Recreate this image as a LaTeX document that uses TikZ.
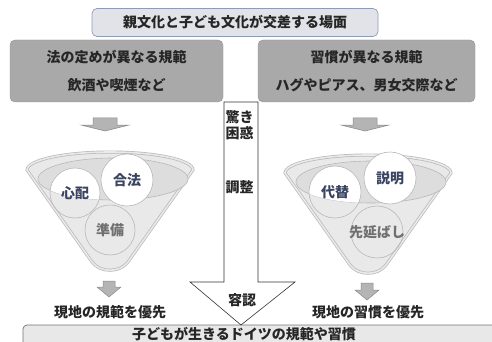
\documentclass[tikz,border=0pt]{standalone}
\usepackage{fontspec}
\setmainfont{Noto Sans CJK JP}
\definecolor{funnelfill}{HTML}{E9E9E9}
\definecolor{innerfill}{HTML}{DDDDDD}
\definecolor{funnelline}{HTML}{B8B8B8}
\definecolor{boxgray}{HTML}{A9A9A9}
\definecolor{topfill}{HTML}{E2E3E8}
\definecolor{topline}{HTML}{8E9BB5}
\definecolor{slate}{HTML}{3A4460}
\definecolor{softtext}{HTML}{707070}
\definecolor{arrowgray}{HTML}{B4B4B4}
\definecolor{arrowline}{HTML}{8A8A8A}
\definecolor{botfill}{HTML}{E8E8E8}
\newcommand{\drawfunnel}{%
  \draw[funnelline, line width=0.7pt, double=funnelfill, double distance=1.6pt, fill=funnelfill]
    (27,170) .. controls (27,160) and (64,152) .. (110,152)
    .. controls (156,152) and (193,160) .. (193,170)
    -- (128,262) .. controls (120,273) and (100,273) .. (92,262) -- cycle;
  \draw[funnelline, line width=0.6pt, fill=innerfill] (113,179) ellipse [x radius=75pt, y radius=21pt];
}
\newcommand{\smallarrow}[5]{% cx, ytop, yhead, ytip, shaft half
  \draw[arrowline, line width=0.5pt, fill=arrowgray]
    (#1-#5,#2) -- (#1+#5,#2) -- (#1+#5,#3) -- (#1+2*#5,#3) -- (#1,#4) -- (#1-2*#5,#3) -- (#1-#5,#3) -- cycle;
}
\begin{document}
\begin{tikzpicture}[x=1pt,y=-1pt,
  txt/.style={font=\fontsize{14}{16}\selectfont\bfseries, text=black!85, inner sep=0pt},
  graybox/.style={txt, fill=boxgray, draw=boxgray!85!black, rounded corners=5pt, align=center,
     font=\fontsize{14}{28}\selectfont\bfseries},
  topbox/.style={txt, fill=topfill, draw=topline, line width=0.7pt, rounded corners=5pt},
  circwhite/.style={circle, draw=funnelline, line width=0.6pt, fill=white, inner sep=0pt},
  circopen/.style={circle, draw=funnelline, line width=0.6pt, inner sep=0pt},
  bigarrow/.style={draw=black!80, line width=0.6pt, fill=white},
]
\useasboundingbox (0,0) rectangle (492,342);

% top box
\node[topbox, minimum width=286pt, minimum height=28pt] (top) at (235,22.5) {親文化と子ども文化が交差する場面};

% gray boxes
\node[graybox, minimum width=213pt, minimum height=62pt] (lawbox) at (116.5,71) {法の定めが異なる規範\\飲酒や喫煙など};
\node[graybox, minimum width=217pt, minimum height=62pt] (custombox) at (366.5,71) {習慣が異なる規範\\ハグやピアス、男女交際など};

% bottom box
\draw[draw=black!55, line width=0.7pt, fill=botfill, rounded corners=4pt] (23,325) rectangle (530,370);
\node[txt] (living) at (244,334) {子どもが生きるドイツの規範や習慣};

% central big arrow
\draw[bigarrow] (224,102) -- (258,102) -- (258,282) -- (295,282) -- (241,325) -- (190,282) -- (224,282) -- cycle;
\node[txt] (odoroki) at (239.5,117) {驚き};
\node[txt] (konwaku) at (239.5,133) {困惑};
\node[txt] (chosei) at (239.5,187) {調整};
\node[txt] (yonin) at (242,300) {容認};

% left funnel
\begin{scope}
  \drawfunnel
  \begin{scope}
    \clip (113,179) ellipse [x radius=75pt, y radius=21pt];
    \fill[white] (75,193) circle [radius=25pt];
  \end{scope}
  \node[circopen, minimum size=50pt] (shinpai) at (75,193) {};
  \node[circwhite, minimum size=52pt] (gouhou) at (127,180) {};
  \node[circopen, minimum size=50pt] (junbi) at (110,230) {};
  \node[txt, text=slate] at (shinpai.center) {心配};
  \node[txt, text=slate] at (gouhou.center) {合法};
  \node[txt, text=softtext] at (junbi.center) {準備};
\end{scope}

% right funnel
\begin{scope}[shift={(258,3)}]
  \drawfunnel
  \begin{scope}
    \clip (113,179) ellipse [x radius=75pt, y radius=21pt];
    \fill[white] (77,189) circle [radius=26pt];
  \end{scope}
  \node[circopen, minimum size=52pt] (daitai) at (77,189) {};
  \node[circwhite, minimum size=52pt] (setsumei) at (132,175) {};
  \node[circopen, minimum size=52pt] (sakinobashi) at (119,229) {};
  \node[txt, text=slate] at (daitai.center) {代替};
  \node[txt, text=slate] at (setsumei.center) {説明};
  \node[txt, text=softtext] at (sakinobashi.center) {先延ばし};
\end{scope}

% small arrows
\smallarrow{105}{118}{125}{131}{12}
\smallarrow{365}{118}{125}{131}{12}
\smallarrow{109}{281}{287}{297}{6}
\smallarrow{367}{283}{290}{300}{6}

% result texts
\node[txt] (leftres) at (110,312) {現地の規範を優先};
\node[txt] (rightres) at (368,312) {現地の習慣を優先};
\end{tikzpicture}
\end{document}
